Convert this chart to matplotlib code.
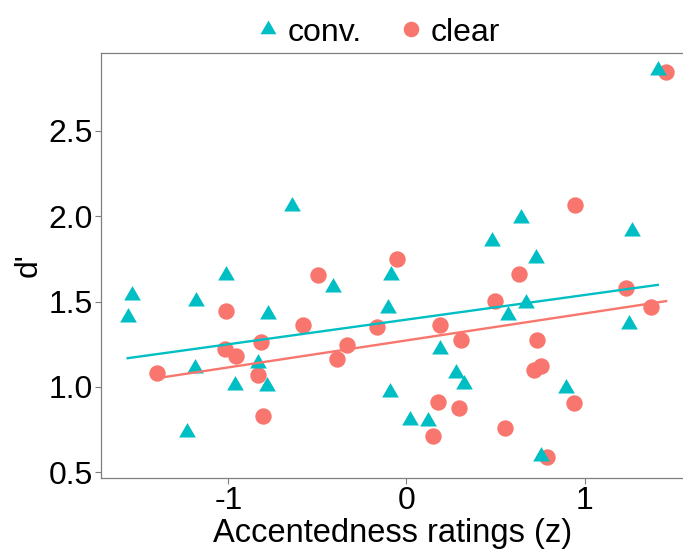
#!/usr/bin/env python3
"""Scatter of d' against accentedness ratings, conversational vs clear speech."""
import matplotlib
matplotlib.use("Agg")
import matplotlib.pyplot as plt
import numpy as np

plt.rcParams["font.family"] = ["Liberation Sans", "DejaVu Sans"]

TEAL = "#00BFC4"
SALMON = "#F8766D"

conv_x = [-0.645, 1.411, 0.645, 1.265, 0.479, 0.727, -1.544, -1.566, -1.016, -1.181,
          -0.780, -0.415, -0.089, -0.104, -1.188, -0.836, -0.963, -0.782, -1.231, -0.093,
          1.250, 0.673, 0.569, 0.190, 0.278, 0.323, 0.896, 0.021, 0.121, 0.756]
conv_y = [2.059, 2.856, 1.991, 1.913, 1.854, 1.758, 1.537, 1.410, 1.655, 1.504,
          1.424, 1.586, 1.655, 1.460, 1.108, 1.137, 1.008, 1.006, 0.733, 0.967,
          1.367, 1.489, 1.420, 1.221, 1.084, 1.016, 0.994, 0.803, 0.799, 0.596]

clear_x = [1.458, 0.948, -0.052, -1.014, -0.497, -0.583, -0.166, -1.018, -0.956, -0.817,
           -0.333, -0.390, -1.402, -0.834, -0.806, 1.235, 1.372, 0.634, 0.499, 0.190,
           0.306, 0.735, 0.757, 0.715, 0.939, 0.175, 0.297, 0.151, 0.551, 0.788]
clear_y = [2.845, 2.067, 1.750, 1.446, 1.657, 1.362, 1.348, 1.219, 1.182, 1.262,
           1.244, 1.164, 1.079, 1.069, 0.830, 1.577, 1.469, 1.659, 1.504, 1.362,
           1.274, 1.274, 1.121, 1.098, 0.906, 0.914, 0.877, 0.713, 0.760, 0.586]

x_ticks = [-1, 0, 1]
y_ticks = [0.5, 1.0, 1.5, 2.0, 2.5]

# equilateral-ish triangle like ggplot shape 17
TRI = [(-1, -0.6), (1, -0.6), (0, 1.13), (-1, -0.6)]

fig = plt.figure(figsize=(6.83, 5.54), dpi=100)
ax = fig.add_axes([0.1486, 0.137, 0.8514, 0.768])

for xs, ys, col, mk, ms, lab in [
    (clear_x, clear_y, SALMON, "o", 11.8, "clear"),
    (conv_x, conv_y, TEAL, TRI, 13.6, "conv."),
]:
    xs = np.asarray(xs)
    ys = np.asarray(ys)
    ax.plot(xs, ys, linestyle="none", marker=mk, markersize=ms, color=col,
            markeredgewidth=0, label=lab, zorder=3)

for xs, ys, col in [(conv_x, conv_y, TEAL), (clear_x, clear_y, SALMON)]:
    xs = np.asarray(xs)
    ys = np.asarray(ys)
    b, a = np.polyfit(xs, ys, 1)
    xx = np.array([xs.min(), xs.max()])
    ax.plot(xx, a + b * xx, color=col, linewidth=1.7, zorder=4)

ax.set_xlim(-1.713, 1.553)
ax.set_ylim(0.465, 2.959)
ax.set_xticks(x_ticks)
ax.set_xticklabels([f"{t:g}" for t in x_ticks])
ax.set_yticks(y_ticks)
ax.set_yticklabels([f"{t:.1f}" for t in y_ticks])
ax.tick_params(length=4, width=0.8, color="#7f7f7f", labelsize=23, pad=2)

for s in ("left", "bottom", "top"):
    ax.spines[s].set_color("#7f7f7f")
    ax.spines[s].set_linewidth(0.9)
ax.spines["right"].set_visible(False)

ax.set_xlabel("Accentedness ratings (z)", fontsize=23.5, labelpad=1)
ax.set_ylabel("d'", fontsize=23, labelpad=4)

h, l = ax.get_legend_handles_labels()
order = [1, 0]
leg = fig.legend([h[i] for i in order], [l[i] for i in order],
                 loc="upper center", bbox_to_anchor=(0.555, 1.02), ncol=2,
                 frameon=False, fontsize=23, handlelength=0.6, handletextpad=0.3,
                 columnspacing=1.25, markerscale=0.95)

fig.savefig("out.png", dpi=100)
